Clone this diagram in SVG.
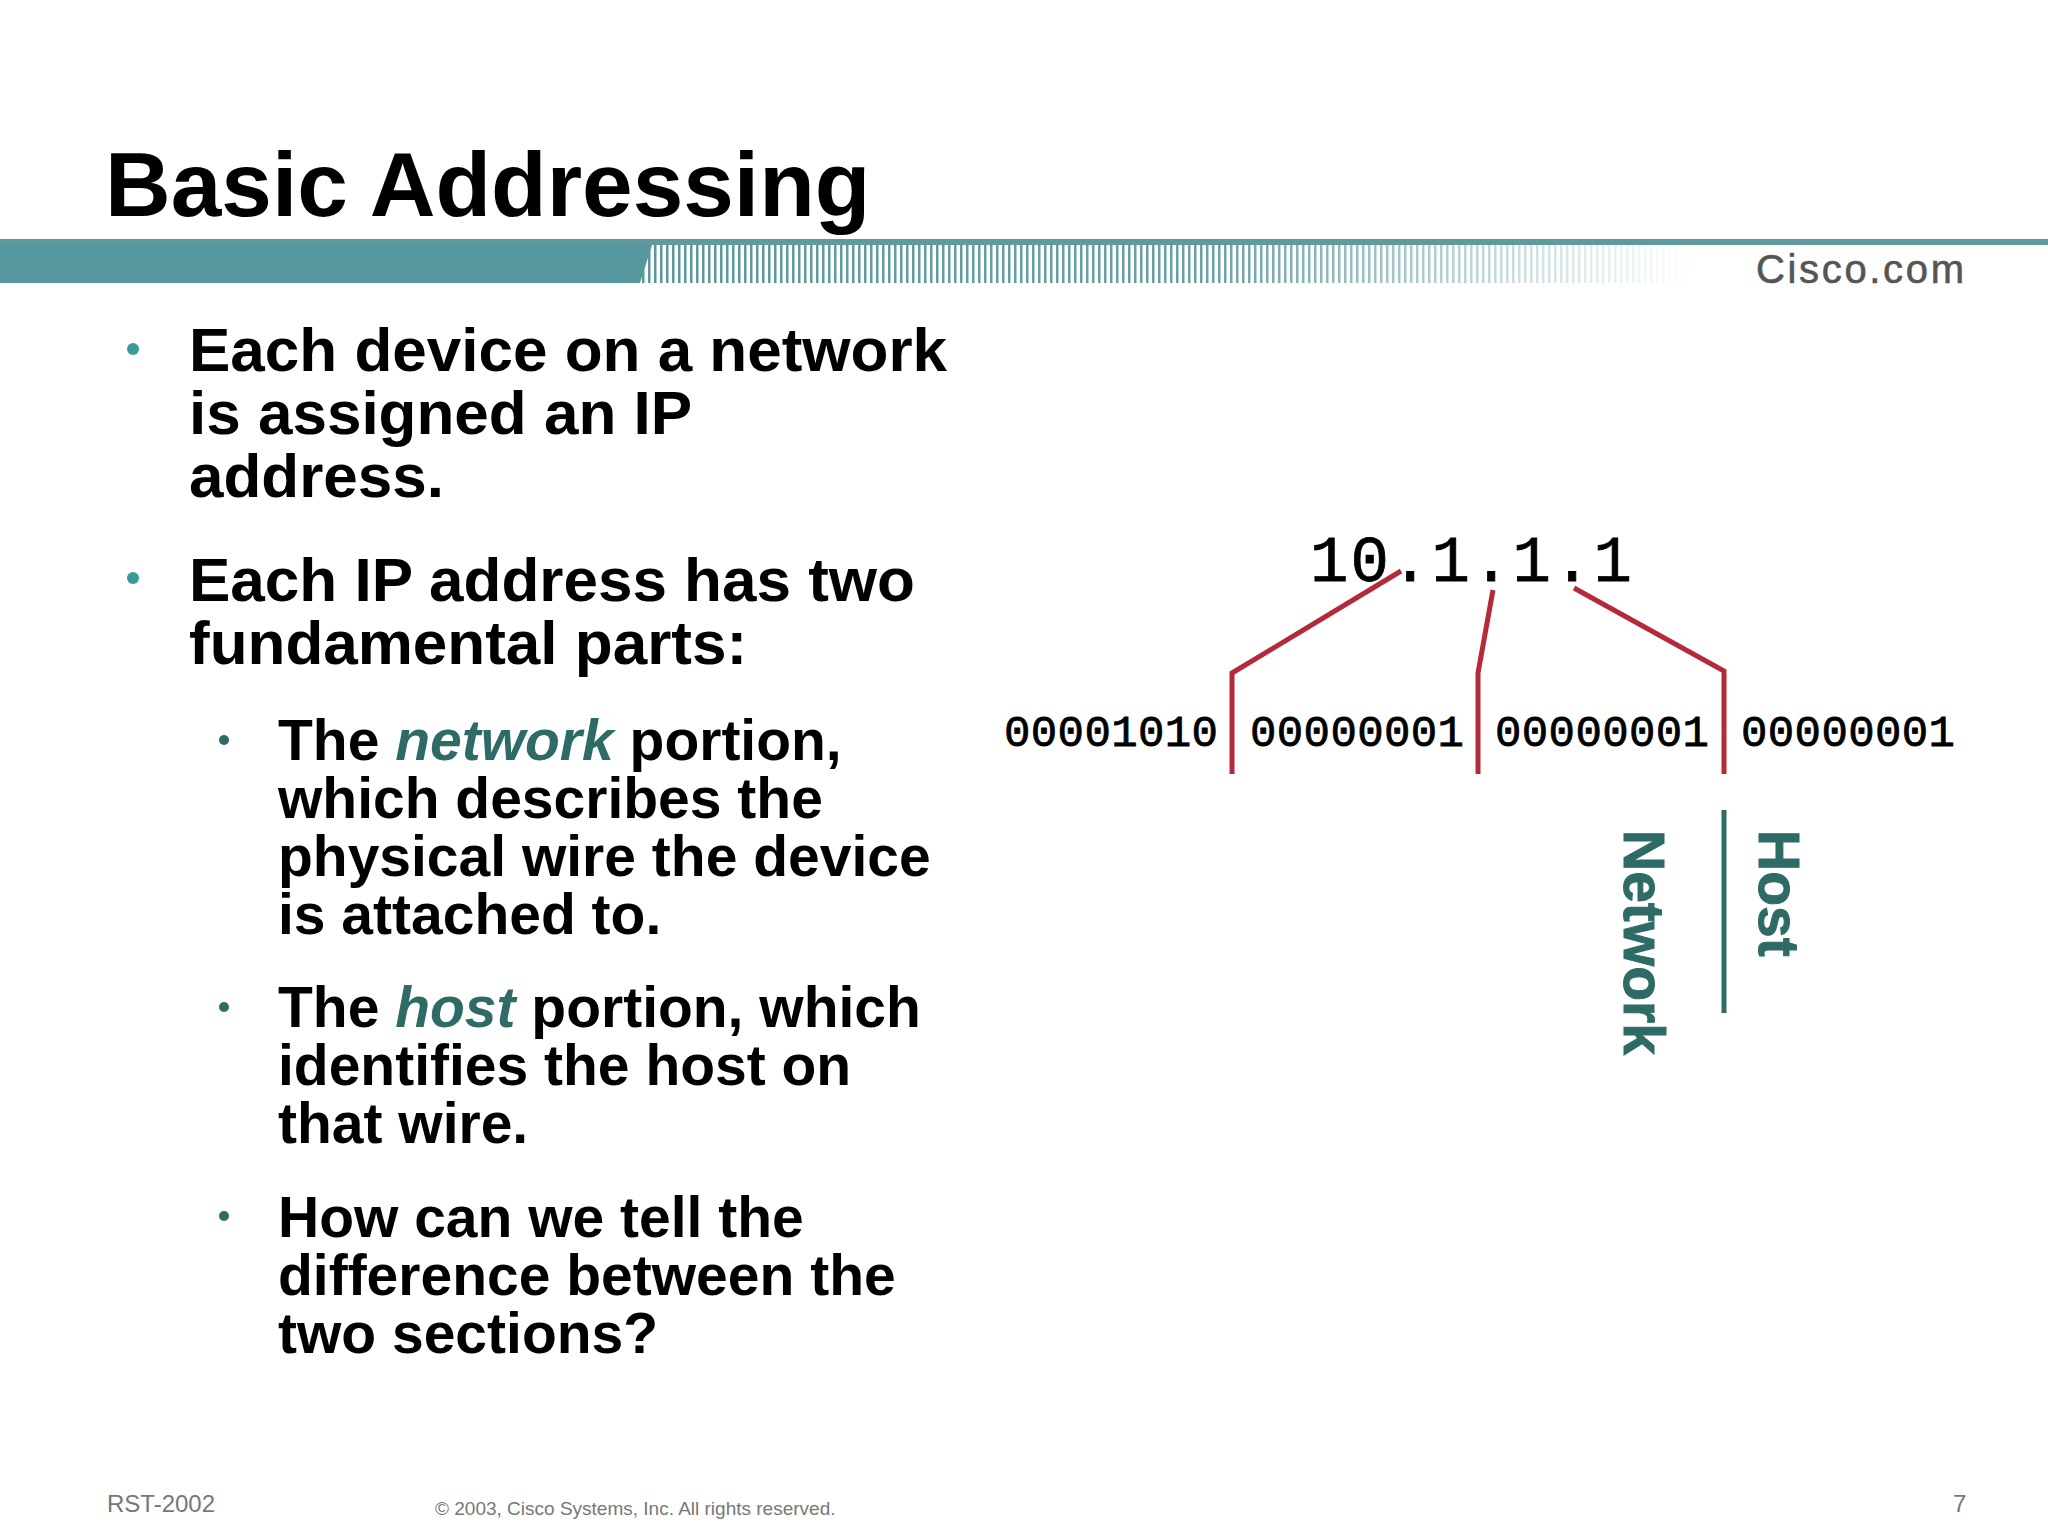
<svg xmlns="http://www.w3.org/2000/svg" width="2048" height="1536" viewBox="0 0 2048 1536">
<defs>
<pattern id="stripes" x="0" y="0" width="6" height="10" patternUnits="userSpaceOnUse"><rect width="2.5" height="10" fill="#5a979c"/></pattern>
<linearGradient id="fade" x1="0" x2="1" y1="0" y2="0"><stop offset="0" stop-color="#fff" stop-opacity="0"/><stop offset="0.55" stop-color="#fff" stop-opacity="0.1"/><stop offset="1" stop-color="#fff" stop-opacity="1"/></linearGradient>
<style>
.b{font-family:"Liberation Sans",Arial,sans-serif;font-weight:bold;fill:#000}
.m{font-family:"Liberation Mono","Courier New",monospace;fill:#000;stroke:#000;stroke-width:0.8}
.t{fill:#2e6b66;font-style:italic}
.r{stroke:#b52a3a;stroke-width:5;fill:none}
.f{font-family:"Liberation Sans",Arial,sans-serif;fill:#777}
.dot{fill:#3a9a94}
.v{font-family:"Liberation Sans",Arial,sans-serif;font-weight:bold;fill:#2e6b66;stroke:#2e6b66;stroke-width:1}
</style>
</defs>
<rect width="2048" height="1536" fill="#fff"/>
<text class="b" x="105" y="216" font-size="91">Basic Addressing</text>
<rect x="0" y="239" width="2048" height="6" fill="#5f9a9c"/>
<polygon points="0,245 652,245 640,283 0,283" fill="#5598a0"/>
<rect x="626" y="245" width="1060" height="38" fill="url(#stripes)"/>
<rect x="626" y="245" width="1062" height="38" fill="url(#fade)"/>
<text x="1756" y="283" font-family="'Liberation Sans',Arial,sans-serif" font-size="40" fill="#555" stroke="#555" stroke-width="0.6" textLength="208">Cisco.com</text>
<g id="bullets">
<circle class="dot" cx="133" cy="349" r="6"/>
<text class="b" x="189" y="371" font-size="62">Each device on a network</text>
<text class="b" x="189" y="434" font-size="62">is assigned an IP</text>
<text class="b" x="189" y="497" font-size="62">address.</text>
<circle class="dot" cx="133" cy="578" r="6"/>
<text class="b" x="189" y="601" font-size="62">Each IP address has two</text>
<text class="b" x="189" y="664" font-size="62">fundamental parts:</text>
<circle cx="224" cy="740" r="5" fill="#2e6b66"/>
<text class="b" x="278" y="760" font-size="57">The <tspan class="t">network</tspan> portion,</text>
<text class="b" x="278" y="818" font-size="57">which describes the</text>
<text class="b" x="278" y="876" font-size="57">physical wire the device</text>
<text class="b" x="278" y="934" font-size="57">is attached to.</text>
<circle cx="224" cy="1007" r="5" fill="#2e6b66"/>
<text class="b" x="278" y="1027" font-size="57">The <tspan class="t">host</tspan> portion, which</text>
<text class="b" x="278" y="1085" font-size="57">identifies the host on</text>
<text class="b" x="278" y="1143" font-size="57">that wire.</text>
<circle cx="224" cy="1216" r="5" fill="#2e6b66"/>
<text class="b" x="278" y="1237" font-size="57">How can we tell the</text>
<text class="b" x="278" y="1295" font-size="57">difference between the</text>
<text class="b" x="278" y="1353" font-size="57">two sections?</text>
</g>
<g id="address">
<text class="m" x="1310" y="581" font-size="64" textLength="322" lengthAdjust="spacing">10.1.1.1</text>
<text class="m" x="1004" y="746" font-size="44" textLength="214">00001010</text>
<text class="m" x="1250" y="746" font-size="44" textLength="214">00000001</text>
<text class="m" x="1495" y="746" font-size="44" textLength="214">00000001</text>
<text class="m" x="1741" y="746" font-size="44" textLength="214">00000001</text>
</g>
<g id="connectors">
<polyline class="r" points="1401,571 1232,673 1232,774"/>
<polyline class="r" points="1493,590 1478,673 1478,774"/>
<polyline class="r" points="1574,588 1724,671 1724,774"/>
<line x1="1724" y1="810" x2="1724" y2="1013" stroke="#2e6b66" stroke-width="5"/>
</g>
<g id="labels">
<text class="v" transform="translate(1624,830) rotate(90)" font-size="57">Network</text>
<text class="v" transform="translate(1759,830) rotate(90)" font-size="57">Host</text>
</g>
<g id="footer">
<text class="f" x="107" y="1512" font-size="24">RST-2002</text>
<text class="f" x="435" y="1515" font-size="19">© 2003, Cisco Systems, Inc. All rights reserved.</text>
<text class="f" x="1953" y="1512" font-size="24">7</text>
</g>
</svg>
